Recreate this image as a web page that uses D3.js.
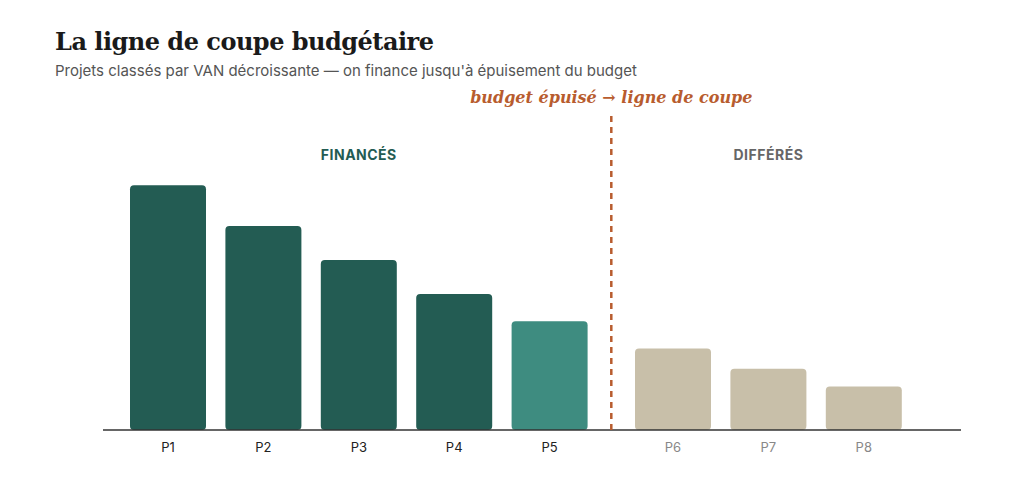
<!DOCTYPE html>
<html><head><meta charset="utf-8">
<script src="https://cdn.jsdelivr.net/npm/d3@7"></script>
<style>body{margin:0;background:#fff}</style>
</head><body><svg></svg>
<script>
const projects = ["P1","P2","P3","P4","P5","P6","P7","P8"]
const van = [90, 75, 62.5, 50, 40, 30, 22.5, 16]
const funded = [true, true, true, true, true, false, false, false]

const svg = d3.select("svg").attr("width", 1024).attr("height", 483)
  .style("font-family", "Inter, 'Noto Sans', sans-serif")

const gap = 28 // extra space at the cut
const idx = d3.scaleLinear().domain([0, 7]).range([130, 130 + 7 * 95.4])
const xPos = i => idx(i) + (funded[i] ? 0 : gap)
const bw = 76
const y = d3.scaleLinear().domain([0, 100]).range([430, 158])

const color = (d, i) => !funded[i] ? "#c8bfa9" : (i === 4 ? "#3e8c80" : "#235c53")

// title
svg.append("text").attr("x", 55).attr("y", 50)
  .style("font-family", "'DejaVu Serif', serif").style("font-weight", "bold")
  .style("font-size", "24px").attr("fill", "#1a1a1a").style("letter-spacing", "-0.5px")
  .text("La ligne de coupe budgétaire")
svg.append("text").attr("x", 55).attr("y", 76)
  .style("font-size", "15px").attr("fill", "#555")
  .text("Projets classés par VAN décroissante — on finance jusqu'à épuisement du budget")

// bars
svg.selectAll("rect.bar").data(van).enter().append("rect")
  .attr("class", "bar")
  .attr("x", (d, i) => xPos(i)).attr("width", bw)
  .attr("y", d => y(d)).attr("height", d => y(0) - y(d))
  .attr("rx", 4).attr("fill", color)

// baseline
svg.append("line").attr("x1", 103).attr("x2", 961).attr("y1", y(0)).attr("y2", y(0))
  .attr("stroke", "#333").attr("stroke-width", 1.5)

// labels
svg.selectAll("text.lab").data(projects).enter().append("text")
  .attr("x", (d, i) => xPos(i) + bw / 2).attr("y", 452)
  .attr("text-anchor", "middle").style("font-size", "13px")
  .attr("fill", (d, i) => funded[i] ? "#222" : "#888").text(d => d)

// cut line
const cutX = (xPos(4) + bw + xPos(5)) / 2
svg.append("line").attr("x1", cutX).attr("x2", cutX).attr("y1", 116).attr("y2", y(0))
  .attr("stroke", "#b85c2e").attr("stroke-width", 2.5).attr("stroke-dasharray", "6,5")
svg.append("text").attr("x", cutX).attr("y", 103).attr("text-anchor", "middle")
  .style("font-family", "'DejaVu Serif', serif").style("font-style", "italic")
  .style("font-weight", "bold").style("font-size", "16px").attr("fill", "#b85c2e")
  .text("budget épuisé → ligne de coupe")

// group labels
svg.append("text").attr("x", (xPos(0) + xPos(4) + bw) / 2).attr("y", 160)
  .attr("text-anchor", "middle").style("font-weight", "bold").style("font-size", "14px")
  .attr("fill", "#235c53").style("letter-spacing", "0.5px").text("FINANCÉS")
svg.append("text").attr("x", (xPos(5) + xPos(7) + bw) / 2).attr("y", 160)
  .attr("text-anchor", "middle").style("font-weight", "bold").style("font-size", "14px")
  .attr("fill", "#666").style("letter-spacing", "0.5px").text("DIFFÉRÉS")
</script></body></html>
